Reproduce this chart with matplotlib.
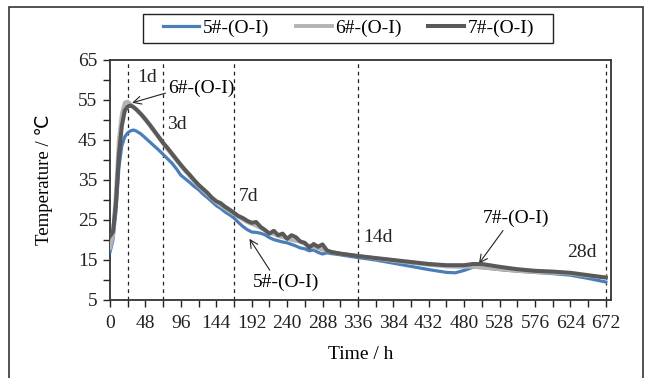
import matplotlib
matplotlib.use('Agg')
import matplotlib.pyplot as plt
from matplotlib.patches import Rectangle
import numpy as np

plt.rcParams['font.family'] = ['Liberation Serif', 'DejaVu Sans']

# time (h) and temperatures
t = [0, 4, 8, 12, 16, 20, 24, 28, 32, 36, 42, 48, 54, 60, 66, 72, 78, 84, 90, 96,
     102, 108, 114, 120, 126, 132, 138, 144, 150, 156, 162, 168, 174, 180, 186, 192,
     198, 204, 210, 216, 222, 228, 234, 240, 246, 252, 258, 264, 270, 276, 282, 288,
     294, 300, 312, 336, 360, 384, 408, 432, 456, 468, 480, 492, 504, 528, 552, 576,
     600, 624, 648, 672]

s5 = [17.0, 20.0, 27.0, 38.0, 43.5, 45.8, 46.8, 47.3, 47.5, 47.2, 46.5, 45.5, 44.5, 43.5, 42.5, 41.4,
      40.3, 39.2, 37.8, 36.2, 35.3, 34.4, 33.4, 32.6, 31.5, 30.6, 29.6, 28.6, 27.9, 27.0,
      26.3, 25.5, 24.4, 23.4, 22.6, 22.0, 21.9, 21.7, 21.3, 20.6, 20.1, 19.8, 19.5, 19.3,
      18.9, 18.5, 18.0, 17.8, 17.3, 17.5, 16.9, 16.5, 16.8, 16.6, 16.3, 15.6, 15.0, 14.2,
      13.4, 12.6, 11.9, 11.8, 12.4, 13.2, 13.1, 12.6, 12.2, 11.9, 11.6, 11.2, 10.4, 9.5]

s6 = [18.0, 21.0, 32.0, 45.0, 51.5, 54.3, 54.6, 53.9, 53.2, 52.5, 51.3, 50.0, 48.6, 47.1, 45.6, 44.1,
      42.7, 41.3, 39.9, 38.5, 37.2, 36.0, 34.7, 33.5, 32.4, 31.4, 30.4, 29.4, 28.6, 27.9,
      27.2, 26.5, 25.8, 25.1, 24.5, 24.0, 23.6, 23.0, 22.4, 21.7, 21.5, 21.0, 20.7, 20.4,
      20.0, 19.8, 19.6, 19.0, 18.6, 18.2, 17.9, 17.6, 17.3, 17.0, 16.6, 16.0, 15.4, 14.8,
      14.3, 13.8, 13.4, 13.3, 13.3, 13.3, 13.1, 12.7, 12.3, 12.0, 11.8, 11.6, 11.0, 10.7]

s7 = [21.0, 22.0, 29.0, 41.0, 48.5, 52.3, 53.4, 53.6, 53.2, 52.6, 51.5, 50.2, 48.8, 47.3, 45.8, 44.3,
      43.0, 41.6, 40.2, 38.8, 37.5, 36.3, 35.0, 33.8, 32.8, 31.8, 30.6, 29.7, 29.2, 28.3,
      27.6, 26.8, 26.0, 25.5, 24.8, 24.3, 24.5, 23.3, 22.5, 21.6, 22.3, 21.2, 21.6, 20.3,
      21.2, 20.7, 19.6, 19.3, 18.1, 19.0, 18.3, 18.9, 17.4, 17.0, 16.6, 16.0, 15.5, 15.0,
      14.5, 14.0, 13.7, 13.7, 13.7, 14.0, 14.0, 13.3, 12.7, 12.3, 12.1, 11.8, 11.2, 10.6]

ages = [24, 72, 168, 336, 672]
age_labels = ['1d', '3d', '7d', '14d', '28d']
age_label_pos = [(37, 60.5), (77, 48.8), (174, 30.8), (343, 20.5), (619, 16.8)]

fig = plt.figure(figsize=(6.46, 3.78), dpi=100)
ax = fig.add_axes([110/646, 1 - 300/378, 501/646, 240/378])

ax.plot(t, s5, color='#4A7EBB', lw=2.3, label='5#-(O-I)', zorder=3)
ax.plot(t, s6, color='#B3B3B3', lw=2.8, label='6#-(O-I)', zorder=4)
ax.plot(t, s7, color='#595959', lw=2.9, label='7#-(O-I)', zorder=5)

for a in ages:
    ax.axvline(a, color='#222222', ls=(0, (3, 3)), lw=0.9, zorder=2)
for lab, (x, y) in zip(age_labels, age_label_pos):
    ax.text(x, y, lab, fontsize=14, ha='left', va='center', color='#222222')

arrow = dict(arrowstyle='->', color='#222222', lw=0.8)
ax.annotate('6#-(O-I)', xy=(30, 54.3), xytext=(124, 58), fontsize=14,
            ha='center', va='center', arrowprops=dict(arrow, shrinkA=0, shrinkB=0,
                                                      relpos=(0.0, 0.25)))
ax.annotate('5#-(O-I)', xy=(189, 20.3), xytext=(238, 9.3), fontsize=14,
            ha='center', va='center', arrowprops=dict(arrow, shrinkA=1, shrinkB=0,
                                                      relpos=(0.3, 1.0)))
ax.annotate('7#-(O-I)', xy=(500, 14.1), xytext=(550, 25.5), fontsize=14,
            ha='center', va='center', arrowprops=dict(arrow, shrinkA=1, shrinkB=0,
                                                      relpos=(0.35, 0.0)))

ax.set_xlim(0, 679)
ax.set_ylim(5, 65)
ax.set_xticks(np.arange(0, 673, 48))
ax.set_xticks(np.arange(0, 673, 24), minor=True)
ax.set_yticks(np.arange(5, 66, 10))
ax.set_yticks(np.arange(10, 61, 10), minor=True)
ax.tick_params(axis='both', which='both', direction='out', length=5, width=1,
               colors='#222222', labelsize=14)
ax.tick_params(axis='x', pad=6)
ax.tick_params(axis='y', pad=4)
for sp in ax.spines.values():
    sp.set_color('#333333')
    sp.set_linewidth(1.3)

ax.set_xlabel('Time / h', fontsize=14, labelpad=10)
ax.set_ylabel('Temperature / ℃', fontsize=13.5, labelpad=18)

fig.legend(loc='center', bbox_to_anchor=(349/646, 1 - 28.5/378), ncol=3,
           fontsize=14, frameon=False, handlelength=1.85, handletextpad=0.2,
           columnspacing=1.35)
# legend box
fig.patches.append(Rectangle((143/646, 1 - 43/378), 410/646, 29/378,
                             transform=fig.transFigure, fill=False,
                             edgecolor='#222222', lw=1.0))

# outer chart frame
fig.patches.append(Rectangle((9/646, -0.05), 634/646, 1.05 - 7/378,
                             transform=fig.transFigure, fill=False,
                             edgecolor='#333333', lw=1.2))

fig.savefig('out.png', dpi=100, facecolor='white')
plt.close(fig)
